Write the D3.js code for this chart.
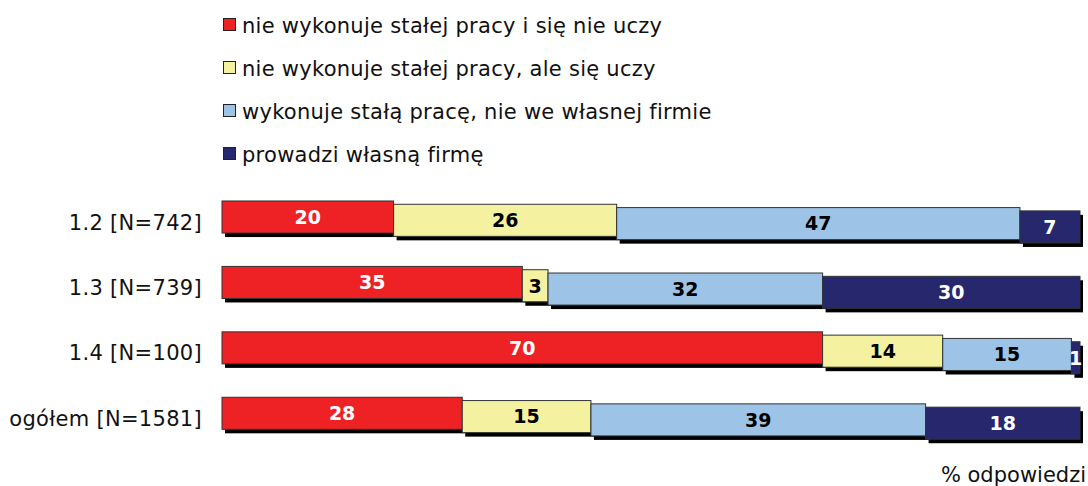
<!DOCTYPE html>
<html>
<head>
<meta charset="utf-8">
<script src="https://cdn.jsdelivr.net/npm/d3@7"></script>
<style>
  body { margin: 0; background: #fff; }
  text { font-family: "DejaVu Sans", Verdana, sans-serif; }
</style>
</head>
<body>
<svg class="svgGlobal" width="1088" height="486"></svg>
<script>
var categories = ["1.2 [N=742]", "1.3 [N=739]", "1.4 [N=100]", "ogółem [N=1581]"];
var seriesNames = ["nie wykonuje stałej pracy i się nie uczy",
                   "nie wykonuje stałej pracy, ale się uczy",
                   "wykonuje stałą pracę, nie we własnej firmie",
                   "prowadzi własną firmę"];
var seriesValues = [
  [20, 35, 70, 28],
  [26, 3, 14, 15],
  [47, 32, 15, 39],
  [7, 30, 1, 18]
];
var colors = ["#ee2225", "#f4f2a0", "#9dc3e6", "#27276e"];
var labelColors = ["#fff", "#000", "#000", "#fff"];
var axisTitle = "% odpowiedzi";

var svgGlobal = d3.select("svg");
var width = +svgGlobal.attr("width"),
    height = +svgGlobal.attr("height");

var x = d3.scaleLinear()
          .domain([0, 100])
          .range([222, 1080]);
var y = d3.scaleBand()
          .domain(categories)
          .range([184.3, 446])
          .paddingInner(0.51)
          .paddingOuter(0.255);
var step = 3.3; // each series sits a bit lower (pseudo 3d look)

// legend
var legend = svgGlobal.append("g").attr("class", "legend");
seriesNames.forEach(function(name, i) {
  var ly = 25 + i * 43;
  legend.append("rect")
    .attr("x", 223.5).attr("y", ly - 6.5)
    .attr("width", 12).attr("height", 12)
    .attr("fill", colors[i])
    .attr("stroke", "#222").attr("stroke-width", 1);
  legend.append("text")
    .attr("x", 242).attr("y", ly)
    .attr("dy", "0.36em")
    .attr("font-size", 21)
    .attr("letter-spacing", 0.27)
    .attr("fill", "#111")
    .text(name);
});

// category labels
svgGlobal.append("g").selectAll("text")
  .data(categories)
  .enter().append("text")
    .attr("x", 202)
    .attr("y", function(d) { return y(d) + y.bandwidth() / 2 + 5; })
    .attr("dy", "0.36em")
    .attr("text-anchor", "end")
    .attr("font-size", 21)
    .attr("letter-spacing", 0.3)
    .attr("fill", "#111")
    .text(function(d) { return d; });

// stacked segments
var bars = svgGlobal.append("g").attr("class", "bars");
categories.forEach(function(cat, c) {
  var start = 0;
  seriesValues.forEach(function(vals, s) {
    var v = vals[c];
    var x0 = x(start), x1 = x(start + v);
    var top = y(cat) + s * step;
    bars.append("rect")
      .attr("x", x0 + 3).attr("y", top + 4)
      .attr("width", x1 - x0).attr("height", y.bandwidth())
      .attr("fill", "#000");
    bars.append("rect")
      .attr("x", x0).attr("y", top)
      .attr("width", x1 - x0).attr("height", y.bandwidth())
      .attr("fill", colors[s])
      .attr("stroke", "#333").attr("stroke-width", 1);
    bars.append("text")
      .attr("x", (x0 + x1) / 2)
      .attr("y", top + y.bandwidth() / 2)
      .attr("dy", "0.36em")
      .attr("text-anchor", "middle")
      .attr("font-size", 19)
      .attr("font-weight", "bold")
      .attr("fill", labelColors[s])
      .text(v);
    start += v;
  });
});

svgGlobal.append("text")
  .attr("x", 1086)
  .attr("y", 482)
  .attr("text-anchor", "end")
  .attr("font-size", 21)
  .attr("fill", "#111")
  .text(axisTitle);
</script>
</body>
</html>
